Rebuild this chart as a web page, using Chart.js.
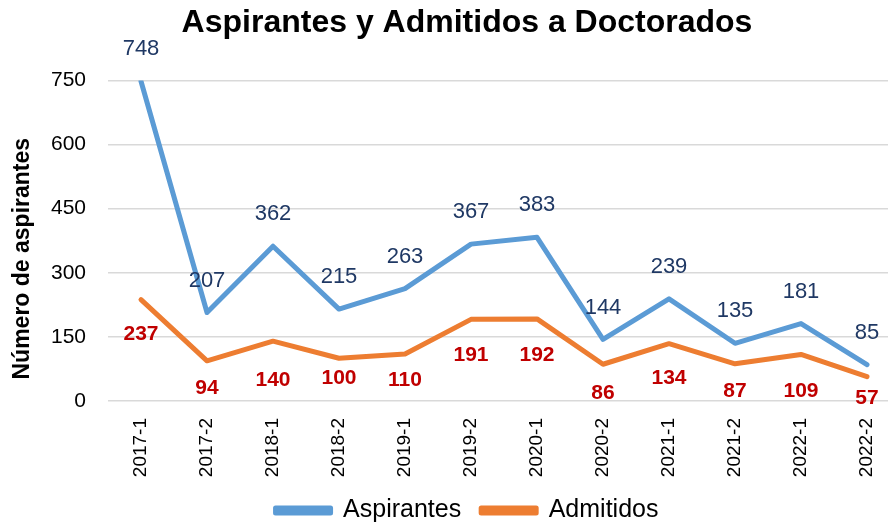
<!DOCTYPE html>
<html>
<head>
<meta charset="utf-8">
<script src="https://cdn.jsdelivr.net/npm/chart.js@4.4.1/dist/chart.umd.min.js"></script>
<style>
  html, body { margin: 0; padding: 0; background: #fff; overflow: hidden; }
  #wrap { width: 888px; height: 523px; overflow: hidden; position: relative; }
  #box { width: 934px; height: 523px; position: absolute; left: 0; top: 0; }
</style>
</head>
<body>
<div id="wrap"><div id="box"><canvas id="c" width="934" height="523"></canvas></div></div>
<script>
const categories = ["2017-1","2017-2","2018-1","2018-2","2019-1","2019-2","2020-1","2020-2","2021-1","2021-2","2022-1","2022-2"];
const aspirantes = [748, 207, 362, 215, 263, 367, 383, 144, 239, 135, 181, 85];
const admitidos = [237, 94, 140, 100, 110, 191, 192, 86, 134, 87, 109, 57];
const yTicks = [0, 150, 300, 450, 600, 750];
const yAxisTitle = 'Número de aspirantes';

const labelPlugin = {
  id: 'pointLabels',
  afterDatasetsDraw(chart, args, opts) {
    const ctx = chart.ctx;
    chart.data.datasets.forEach((ds, i) => {
      const meta = chart.getDatasetMeta(i);
      const cfg = opts.sets[i];
      ctx.save();
      ctx.font = cfg.font;
      ctx.fillStyle = cfg.color;
      ctx.textAlign = 'center';
      ctx.textBaseline = 'middle';
      meta.data.forEach((pt, j) => {
        const off = Array.isArray(cfg.offset) ? cfg.offset[j] : cfg.offset;
        ctx.fillText(String(ds.data[j]), pt.x, pt.y + off);
      });
      ctx.restore();
    });
  }
};

const yTitlePlugin = {
  id: 'yTitle',
  afterDraw(chart, args, opts) {
    const ctx = chart.ctx;
    const area = chart.chartArea;
    ctx.save();
    ctx.font = opts.font;
    ctx.fillStyle = opts.color;
    ctx.textAlign = 'center';
    ctx.textBaseline = 'middle';
    ctx.translate(opts.x, (area.top + area.bottom) / 2 + opts.shift);
    ctx.rotate(-Math.PI / 2);
    ctx.fillText(opts.text, 0, 0);
    ctx.restore();
  }
};

new Chart(document.getElementById('c'), {
  type: 'line',
  data: {
    labels: categories,
    datasets: [
      { label: 'Aspirantes', data: aspirantes, borderColor: '#5B9BD5', backgroundColor: '#5B9BD5',
        borderWidth: 5, pointRadius: 0, tension: 0, borderJoinStyle: 'round', borderCapStyle: 'round' },
      { label: 'Admitidos', data: admitidos, borderColor: '#ED7D31', backgroundColor: '#ED7D31',
        borderWidth: 5, pointRadius: 0, tension: 0, borderJoinStyle: 'round', borderCapStyle: 'round' }
    ]
  },
  options: {
    responsive: false,
    animation: false,
    layout: { padding: { left: 0, right: 0, top: 0, bottom: -10 } },
    plugins: {
      title: {
        display: true,
        text: 'Aspirantes y Admitidos a Doctorados',
        color: '#000',
        font: { family: '"Liberation Sans", Arial', size: 32, weight: 'bold' },
        padding: { top: 4, bottom: 38 }
      },
      legend: {
        position: 'bottom',
        labels: {
          color: '#000',
          boxWidth: 55,
          boxHeight: 5,
          padding: 20,
          font: { family: '"Liberation Sans", Arial', size: 25 }
        }
      },
      tooltip: { enabled: false },
      pointLabels: {
        sets: [
          { font: '22px "Liberation Sans", Arial', color: '#1F3864', offset: -32 },
          { font: 'bold 21px "Liberation Sans", Arial', color: '#C00000',
            offset: [35, 27, 39, 20, 26, 36, 36, 29, 34, 27, 37, 22] }
        ]
      },
      yTitle: {
        text: yAxisTitle,
        font: 'bold 23px "Liberation Sans", Arial',
        color: '#000',
        x: 23,
        shift: 18
      }
    },
    scales: {
      x: {
        type: 'category',
        offset: true,
        afterFit(scale) { scale.height = 77; },
        grid: { display: false, drawTicks: false },
        border: { display: false },
        ticks: {
          color: '#000',
          minRotation: 90, maxRotation: 90,
          padding: 17,
          font: { family: '"Liberation Sans", Arial', size: 19 }
        }
      },
      y: {
        min: 0, max: 750,
        afterBuildTicks(scale) { scale.ticks = yTicks.map(v => ({ value: v })); },
        afterFit(scale) { scale.width = 108; },
        grid: { color: '#D9D9D9', lineWidth: 1.5, drawTicks: false },
        border: { display: false },
        ticks: {
          color: '#000',
          padding: 22,
          font: { family: '"Liberation Sans", Arial', size: 21 }
        }
      },
      yRight: {
        position: 'right',
        display: true,
        min: 0, max: 750,
        afterFit(scale) { scale.width = 34; },
        grid: { display: false, drawTicks: false },
        border: { display: false },
        ticks: { display: false }
      }
    }
  },
  plugins: [labelPlugin, yTitlePlugin]
});
</script>
</body>
</html>
